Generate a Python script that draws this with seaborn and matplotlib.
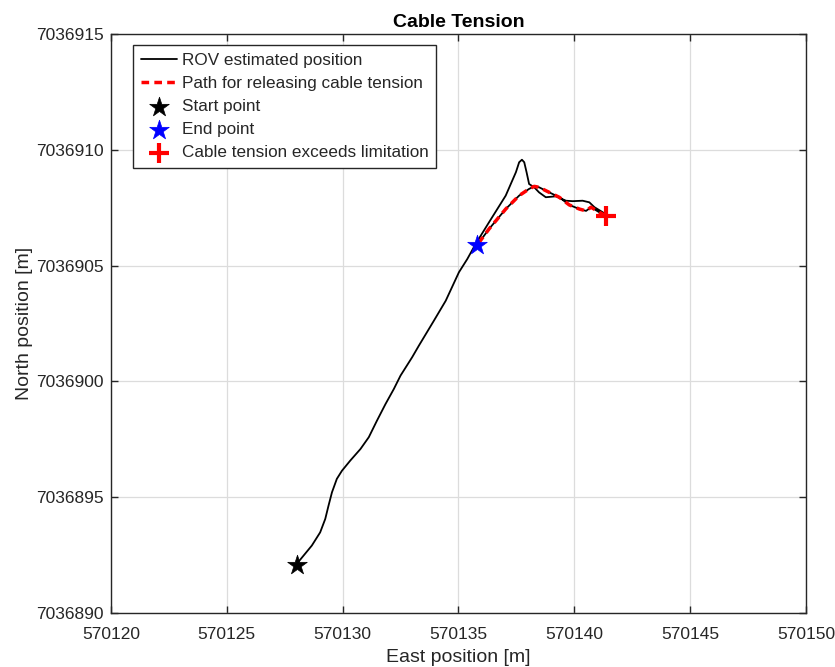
import numpy as np
import pandas as pd
import matplotlib
matplotlib.use("Agg")
import matplotlib.pyplot as plt
import seaborn as sns

# ROV estimated track: outbound leg from the start point up to the point
# where cable tension exceeds the limit
rov_east = [570128.02, 570128.67, 570129.03, 570129.25, 570129.39, 570129.54,
            570129.75, 570129.97, 570130.33, 570130.77, 570131.13, 570131.48,
            570131.85, 570132.21, 570132.50, 570133.00, 570133.29, 570133.94,
            570134.45, 570135.02, 570135.38, 570135.74, 570136.32, 570137.04,
            570137.48, 570137.62, 570137.74, 570137.84, 570137.94, 570138.05,
            570138.27, 570138.48, 570138.77, 570139.21, 570139.64, 570139.93,
            570140.36, 570140.65, 570140.87, 570141.23, 570141.37]
rov_north = [7036892.12, 7036892.91, 7036893.48, 7036894.06, 7036894.63, 7036895.21,
             7036895.79, 7036896.14, 7036896.58, 7036897.08, 7036897.59, 7036898.30,
             7036899.02, 7036899.67, 7036900.25, 7036901.04, 7036901.54, 7036902.62,
             7036903.48, 7036904.71, 7036905.28, 7036905.93, 7036906.87, 7036908.02,
             7036909.03, 7036909.46, 7036909.57, 7036909.46, 7036909.03, 7036908.52,
             7036908.38, 7036908.16, 7036907.95, 7036907.99, 7036907.80, 7036907.78,
             7036907.80, 7036907.73, 7036907.52, 7036907.30, 7036907.16]

# Return path used to release the cable tension
rel_east = [570141.37, 570141.08, 570140.72, 570140.51, 570140.22, 570139.78,
            570139.35, 570138.92, 570138.48, 570138.27, 570138.05, 570137.62,
            570137.04, 570136.32, 570135.81]
rel_north = [7036907.15, 7036907.30, 7036907.52, 7036907.36, 7036907.44, 7036907.62,
             7036907.95, 7036908.16, 7036908.38, 7036908.42, 7036908.31, 7036908.02,
             7036907.44, 7036906.58, 7036905.89]

start_pt = (570128.01, 7036892.07)
end_pt = (570135.81, 7036905.89)
limit_pt = (570141.36, 7036907.14)

x_ticks = [570120, 570125, 570130, 570135, 570140, 570145, 570150]
y_ticks = [7036890, 7036895, 7036900, 7036905, 7036910, 7036915]

sns.set_style("white")
plt.rcParams["font.family"] = ["Liberation Sans", "DejaVu Sans"]

fig = plt.figure(figsize=(8.35, 6.67), dpi=100)
ax = fig.add_axes([0.1329, 0.0810, 0.8323, 0.8681])

# full ROV track = outbound leg followed by the return leg
track = pd.DataFrame({
    "east": rov_east + rel_east[1:],
    "north": rov_north + rel_north[1:],
})
release = pd.DataFrame({"east": rel_east, "north": rel_north})

sns.lineplot(data=track, x="east", y="north", sort=False, estimator=None,
             color="black", linewidth=1.3, ax=ax, label="ROV estimated position")
sns.lineplot(data=release, x="east", y="north", sort=False, estimator=None,
             color="red", linewidth=2.5, ax=ax, label="Path for releasing cable tension")
ax.lines[-1].set_dashes([2.2, 1.5])

sns.scatterplot(x=[start_pt[0]], y=[start_pt[1]], marker="*", s=220, color="black",
                edgecolor="black", linewidth=0.5, ax=ax, label="Start point", zorder=5)
sns.scatterplot(x=[end_pt[0]], y=[end_pt[1]], marker="*", s=220, color="blue",
                edgecolor="blue", linewidth=0.5, ax=ax, label="End point", zorder=5)
sns.scatterplot(x=[limit_pt[0]], y=[limit_pt[1]], marker="+", s=220, color="red",
                linewidth=3, ax=ax, label="Cable tension exceeds limitation", zorder=5)

ax.set_xlim(570120, 570150)
ax.set_ylim(7036890, 7036915)
ax.set_xticks(x_ticks)
ax.set_yticks(y_ticks)
ax.ticklabel_format(useOffset=False, style="plain")
ax.grid(True, color="#dcdcdc", linewidth=0.9)
ax.set_axisbelow(True)

axis_col = "#262626"
for sp in ax.spines.values():
    sp.set_visible(True)
    sp.set_color(axis_col)
    sp.set_linewidth(1.0)
ax.tick_params(axis="both", direction="in", length=5, width=1.0, color=axis_col,
               labelcolor=axis_col, labelsize=12.5, top=True, right=True,
               bottom=True, left=True)
ax.tick_params(axis="x", pad=10)
ax.tick_params(axis="y", pad=5)

ax.set_xlabel("East position [m]", fontsize=14, color=axis_col, labelpad=5)
ax.set_ylabel("North position [m]", fontsize=14, color=axis_col, labelpad=2)
ax.set_title("Cable Tension", fontsize=14, fontweight="bold", color="black", pad=5)

leg = ax.legend(loc="upper left", bbox_to_anchor=(0.0317, 0.981), fontsize=12.3,
                frameon=True, fancybox=False, framealpha=1, edgecolor=axis_col,
                handlelength=2.1, handletextpad=0.3, borderpad=0.45, labelspacing=0.48,
                borderaxespad=0.0)
leg.get_frame().set_linewidth(1.0)

fig.savefig("out.png", dpi=100)
